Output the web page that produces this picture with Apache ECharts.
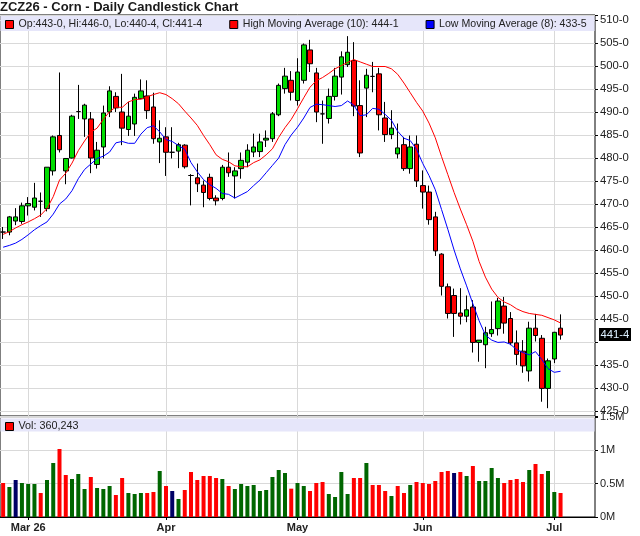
<!DOCTYPE html>
<html><head><meta charset="utf-8">
<script src="https://cdn.jsdelivr.net/npm/echarts@6/dist/echarts.min.js"></script>
<style>html,body{margin:0;padding:0;background:#fff}#c{width:640px;height:536px}</style>
</head><body><div id="c"></div>
<script>
const dates = [
'2026-02-24','2026-02-25','2026-02-26','2026-02-27',
'2026-03-02','2026-03-03','2026-03-04','2026-03-05','2026-03-06','2026-03-09','2026-03-10','2026-03-11','2026-03-12','2026-03-13',
'2026-03-16','2026-03-17','2026-03-18','2026-03-19','2026-03-20','2026-03-23','2026-03-24','2026-03-25','2026-03-26','2026-03-27',
'2026-03-30','2026-03-31',
'2026-04-01','2026-04-02','2026-04-06','2026-04-07','2026-04-08','2026-04-09','2026-04-10','2026-04-13','2026-04-14','2026-04-15',
'2026-04-16','2026-04-17','2026-04-20','2026-04-21','2026-04-22','2026-04-23','2026-04-24','2026-04-27','2026-04-28','2026-04-29','2026-04-30',
'2026-05-01','2026-05-04','2026-05-05','2026-05-06','2026-05-07','2026-05-08','2026-05-11','2026-05-12','2026-05-13','2026-05-14','2026-05-15',
'2026-05-18','2026-05-19','2026-05-20','2026-05-21','2026-05-22','2026-05-26','2026-05-27','2026-05-28','2026-05-29',
'2026-06-01','2026-06-02','2026-06-03','2026-06-04','2026-06-05','2026-06-08','2026-06-09','2026-06-10','2026-06-11','2026-06-12',
'2026-06-15','2026-06-16','2026-06-17','2026-06-18','2026-06-22','2026-06-23','2026-06-24','2026-06-25','2026-06-26','2026-06-29','2026-06-30',
'2026-07-01','2026-07-02'];
const futureDates = ['2026-07-06','2026-07-07','2026-07-08','2026-07-09','2026-07-10'];

const opens = [463.9,463.9,466.3,466.2,469.6,469.3,470.6,469.0,477.2,484.9,
477.2,480.0,490.1,488.5,488.5,478.6,482.4,490.0,493.4,490.0,
486.2,487.4,492.9,493.5,491.1,483.5,484.6,481.25,481.5,482.8,
476.2,475.7,474.1,475.8,471.3,471.2,478.0,476.1,477.7,479.1,
481.3,481.4,483.9,484.2,489.4,495.1,496.9,492.5,496.9,503.5,
498.5,489.6,488.6,493.4,497.6,500.3,501.2,491.4,495.2,497.75,
498.3,488.7,485.1,480.9,482.9,477.7,483.0,474.0,472.6,467.2,
459.1,452.0,450.1,446.3,445.6,447.6,439.9,439.4,441.8,442.9,
447.8,445.1,439.8,438.0,433.7,443.0,440.8,429.9,436.3,443.0];
const highs = [465.0,467.4,469.1,470.3,471.5,474.6,472.5,478.0,484.9,498.6,
480.0,489.4,495.9,491.8,490.0,483.5,491.4,495.6,494.3,498.3,
492.2,494.0,497.1,496.9,494.2,488.2,486.7,486.7,483.3,483.0,
476.5,478.8,475.1,476.6,471.9,478.5,481.2,478.0,481.2,483.0,
485.3,485.3,486.0,490.0,496.2,499.6,498.9,501.7,504.9,505.7,
499.6,492.5,495.1,499.6,503.2,506.5,505.2,496.9,499.4,500.9,
499.6,492.2,490.4,487.5,484.6,484.9,484.9,477.3,474.0,468.3,
459.3,452.7,451.6,451.7,450.1,449.1,440.4,443.3,448.8,449.6,
449.8,446.5,442.5,440.4,444.4,446.1,441.5,436.4,442.2,446.0];
const lows = [462.4,463.2,465.4,465.7,467.5,468.6,467.2,468.4,476.2,481.2,
474.3,479.9,488.5,484.6,476.7,477.7,479.9,488.9,490.0,482.8,
484.8,484.8,492.8,488.5,483.1,478.9,476.1,479.9,477.8,477.7,
469.7,472.6,469.3,470.8,469.7,470.8,475.9,471.2,475.5,478.0,
480.2,480.2,482.4,483.5,489.1,494.0,492.5,491.4,496.2,498.7,
487.8,483.1,487.5,492.5,493.8,499.8,489.1,480.2,488.9,494.3,
486.0,483.5,484.1,479.9,477.2,476.6,473.7,469.0,465.5,458.7,
450.1,445.1,441.1,443.8,444.3,437.7,435.7,434.3,441.1,441.4,
441.8,439.3,435.0,433.3,431.4,440.1,427.0,425.6,435.4,440.5];
const closes = [463.9,467.2,467.2,469.6,470.1,471.3,470.6,478.0,484.6,481.8,
479.9,489.1,490.1,491.5,480.0,481.7,489.8,494.6,490.9,486.5,
489.1,493.2,494.6,490.3,484.2,484.3,481.25,481.25,482.9,478.1,
476.2,474.4,472.5,471.2,470.7,478.0,476.8,477.2,479.5,481.7,
482.4,483.5,484.3,489.6,495.8,497.8,494.3,498.7,504.6,500.5,
490.0,489.6,493.4,497.8,502.0,503.0,491.3,481.1,498.0,497.75,
489.4,485.1,486.5,482.2,477.7,482.4,475.0,472.6,466.6,459.8,
452.1,446.2,446.2,445.6,447.0,439.9,440.4,442.0,442.7,448.9,
444.1,439.8,437.3,434.8,443.0,441.4,429.9,435.9,442.1,441.5];
const volumes = [510000,450000,555000,510000,495000,495000,360000,555000,810000,1020000,
630000,570000,645000,420000,600000,435000,420000,465000,330000,585000,
360000,345000,360000,360000,375000,690000,465000,390000,270000,405000,
675000,555000,615000,615000,585000,570000,465000,420000,495000,465000,
480000,390000,405000,600000,705000,660000,425000,510000,465000,390000,
510000,525000,345000,300000,675000,345000,585000,585000,810000,480000,
480000,390000,315000,465000,360000,480000,525000,510000,495000,540000,
675000,690000,660000,675000,615000,765000,540000,540000,735000,585000,
510000,555000,570000,525000,705000,795000,645000,690000,375000,360243];
const highMA10 = [463.4,464.0,464.8,465.5,466.1,466.8,467.6,469.0,471.6,475.2,
476.7,478.9,481.6,483.7,485.6,486.5,488.4,490.1,491.1,491.0,
492.2,492.7,492.8,493.3,493.8,494.2,493.8,492.9,491.8,490.2,
488.7,487.1,484.9,482.9,480.7,479.7,479.2,478.3,478.1,478.1,
479.0,479.6,480.7,482.0,484.5,486.6,488.4,490.7,493.1,495.4,
496.8,497.5,498.4,499.4,500.1,500.8,501.4,500.9,500.4,499.9,
499.9,499.9,499.4,498.2,496.3,494.2,492.1,490.2,487.6,484.4,
480.3,476.4,472.5,468.9,465.5,461.9,457.5,454.1,451.5,449.7,
448.7,448.1,447.2,446.6,446.2,446.0,445.8,445.3,444.8,444.125];
const lowMA8 = [460.6,461.0,461.5,462.3,463.3,464.4,465.3,466.1,467.8,470.0,
471.1,472.9,475.5,477.5,478.7,479.9,480.4,481.3,483.3,483.6,
483.2,483.2,485.2,486.6,487.0,485.7,484.0,483.6,482.7,481.9,
479.0,477.0,475.3,474.2,473.4,472.3,472.1,471.3,472.0,472.7,
474.0,475.2,476.8,478.4,480.0,482.9,485.0,486.7,488.7,491.0,
491.7,491.6,491.4,491.2,491.4,492.4,491.5,489.2,489.4,490.8,
490.6,489.5,488.2,485.8,484.3,483.8,481.9,478.8,476.2,473.1,
468.8,464.5,460.0,455.9,452.2,448.3,444.6,441.5,440.4,439.9,
440.0,439.5,438.3,437.7,437.2,437.9,436.2,434.2,433.4,433.625];
const xTickDates = ['2026-03-02','2026-04-01','2026-05-01','2026-06-01','2026-07-01'];
const xTickLabels = ['Mar 26','Apr','May','Jun','Jul'];

const FONT = "'Liberation Sans', Arial, Helvetica, sans-serif";
const GRID_GRAY = '#d9d9d9';
const categories = dates.concat(futureDates);
const last = closes.length - 1;

function fmt8(v) {
  let w = Math.floor(v + 1e-9);
  let e = Math.round((v - w) * 8);
  if (e === 8) { w += 1; e = 0; }
  return w + '-' + e;
}
const isTick = (idx, val) => xTickDates.indexOf(categories[idx]) >= 0;
const onStep = (v, s) => Math.abs(v / s - Math.round(v / s)) < 1e-6;

const candleData = dates.map((d, i) => [opens[i], closes[i], lows[i], highs[i]]);
const volData = volumes.map((v, i) => {
  // colour by change of close vs previous close (first bar: down)
  let c = '#ff0000';
  if (i > 0) c = closes[i] > closes[i - 1] ? '#006600' : (closes[i] < closes[i - 1] ? '#ff0000' : '#000066');
  return { value: v, itemStyle: { color: c } };
});
const monthLines = xTickDates.map(d => ({ xAxis: d }));

const legendText = {
  'Price': 'Op:' + fmt8(opens[last]) + ', Hi:' + fmt8(highs[last]) + ', Lo:' + fmt8(lows[last]) + ', Cl:' + fmt8(closes[last]),
  'HighMA': 'High Moving Average (10): ' + fmt8(highMA10[last]),
  'LowMA': 'Low Moving Average (8): ' + fmt8(lowMA8[last]),
  'Vol': 'Vol: ' + volumes[last].toLocaleString('en-US')
};

const GL = 0, GW = 595;
const bands = [
  { type: 'rect', z: 10, silent: true, shape: { x: GL + 0.5, y: 16, width: GW - 1, height: 15 }, style: { fill: '#e6e6fa' } },
  { type: 'rect', z: 10, silent: true, shape: { x: GL + 0.5, y: 418.5, width: GW - 1, height: 13 }, style: { fill: '#e6e6fa' } }
];

const chart = echarts.init(document.getElementById('c'), null, { renderer: 'canvas' });
const option = {
  animation: false,
  backgroundColor: '#fff',
  textStyle: { fontFamily: FONT },
  title: {
    text: 'ZCZ26 - Corn - Daily Candlestick Chart',
    left: 0, top: 1, padding: 0,
    textStyle: { fontSize: 13, fontWeight: 'bold', color: '#1a1a1a', fontFamily: FONT }
  },
  legend: [{
    data: [
      { name: 'Price', icon: 'rect', itemStyle: { color: '#ff0000', borderColor: '#000', borderWidth: 1 } },
      { name: 'HighMA', icon: 'rect', itemStyle: { color: '#ff0000', borderColor: '#000', borderWidth: 1 } },
      { name: 'LowMA', icon: 'rect', itemStyle: { color: '#0000ff', borderColor: '#000', borderWidth: 1 } }
    ],
    left: 5, top: 19, padding: 0, itemWidth: 8, itemHeight: 8, itemGap: 27,
    selectedMode: false, z: 20,
    formatter: n => legendText[n],
    textStyle: { fontSize: 10.6, color: '#222', fontFamily: FONT }
  }, {
    data: [{ name: 'Vol', icon: 'rect', itemStyle: { color: '#ff0000', borderColor: '#000', borderWidth: 1 } }],
    left: 5, top: 421, padding: 0, itemWidth: 8, itemHeight: 8,
    selectedMode: false, z: 20,
    formatter: n => legendText[n],
    textStyle: { fontSize: 10.8, color: '#222', fontFamily: FONT }
  }],
  grid: [
    { left: GL, top: 15, width: GW, height: 401, show: true, borderColor: '#000', borderWidth: 1, backgroundColor: 'transparent' },
    { left: GL, top: 417, width: GW, height: 100, show: true, borderColor: '#000', borderWidth: 1, backgroundColor: 'transparent' }
  ],
  xAxis: [{
    type: 'category', gridIndex: 0, data: categories, boundaryGap: true,
    axisLine: { show: false }, axisTick: { show: false }, axisLabel: { show: false }, splitLine: { show: false }
  }, {
    type: 'category', gridIndex: 1, data: categories, boundaryGap: true,
    axisLine: { show: true, lineStyle: { color: '#000', width: 1 } },
    axisTick: { show: true, alignWithLabel: true, interval: isTick, length: 3, lineStyle: { color: '#000' } },
    axisLabel: {
      interval: isTick, margin: 5, fontSize: 11, fontWeight: 'bold', color: '#222', fontFamily: FONT,
      formatter: v => { const k = xTickDates.indexOf(v); return k >= 0 ? xTickLabels[k] : ''; }
    },
    splitLine: { show: false }
  }],
  yAxis: [{
    type: 'value', gridIndex: 0, position: 'right', scale: true,
    min: 423.9, max: 511.1, splitNumber: 17, minInterval: 5, maxInterval: 5,
    axisLine: { show: false },
    axisTick: { show: true, inside: false, length: 3, lineStyle: { color: '#000' } },
    axisLabel: {
      margin: 5, fontSize: 11.3, color: '#222', fontFamily: FONT,
      showMinLabel: true, showMaxLabel: true, hideOverlap: false,
      formatter: v => (!onStep(v, 5) || Math.abs(v - closes[last]) < 2.5 ? '' : fmt8(v))
    },
    splitLine: { show: true, lineStyle: { color: GRID_GRAY, width: 1 } }
  }, {
    type: 'value', gridIndex: 1, position: 'right',
    min: 0, max: 1500000, interval: 500000,
    axisLine: { show: false },
    axisTick: { show: true, inside: false, length: 3, lineStyle: { color: '#000' } },
    axisLabel: { margin: 5, fontSize: 11, color: '#222', fontFamily: FONT, showMaxLabel: true, formatter: v => (v / 1000000) + 'M' },
    splitLine: { show: true, lineStyle: { color: GRID_GRAY, width: 1 } }
  }],
  series: [{
    name: 'Price', type: 'candlestick', xAxisIndex: 0, yAxisIndex: 0, data: candleData,
    barWidth: 5, z: 3,
    itemStyle: { color: '#00dd00', color0: '#ff0000', borderColor: '#000', borderColor0: '#000', borderColorDoji: '#000', borderWidth: 1 },
    markLine: {
      silent: true, symbol: ['none', 'none'], z: 1, animation: false,
      label: { show: false }, lineStyle: { color: GRID_GRAY, width: 1, type: 'solid' },
      emphasis: { disabled: true },
      data: monthLines
    }
  }, {
    name: 'HighMA', type: 'line', xAxisIndex: 0, yAxisIndex: 0, data: highMA10,
    symbol: 'none', z: 4, silent: true,
    lineStyle: { color: '#ff0000', width: 1 }, itemStyle: { color: '#ff0000' }
  }, {
    name: 'LowMA', type: 'line', xAxisIndex: 0, yAxisIndex: 0, data: lowMA8,
    symbol: 'none', z: 4, silent: true,
    lineStyle: { color: '#0000ff', width: 1 }, itemStyle: { color: '#0000ff' }
  }, {
    name: 'Vol', type: 'bar', xAxisIndex: 1, yAxisIndex: 1, data: volData, barWidth: 4, z: 3,
    itemStyle: { color: '#ff0000' },
    markLine: {
      silent: true, symbol: ['none', 'none'], z: 1, animation: false,
      label: { show: false }, lineStyle: { color: GRID_GRAY, width: 1, type: 'solid' },
      emphasis: { disabled: true },
      data: monthLines
    }
  }],
  graphic: bands
};
chart.setOption(option);

// current-price tag at the right axis, placed with the axis scale
const py = chart.convertToPixel({ yAxisIndex: 0 }, closes[last]);
chart.setOption({
  graphic: bands.concat([
    { type: 'rect', z: 30, silent: true, shape: { x: GL + GW + 4, y: Math.round(py) - 7, width: 32, height: 13 }, style: { fill: '#000' } },
    { type: 'text', z: 31, silent: true, x: GL + GW + 5.5, y: Math.round(py),
      style: { text: fmt8(closes[last]), fill: '#dcefff', font: '11.3px ' + FONT, verticalAlign: 'middle' } }
  ])
});
</script>
</body></html>
